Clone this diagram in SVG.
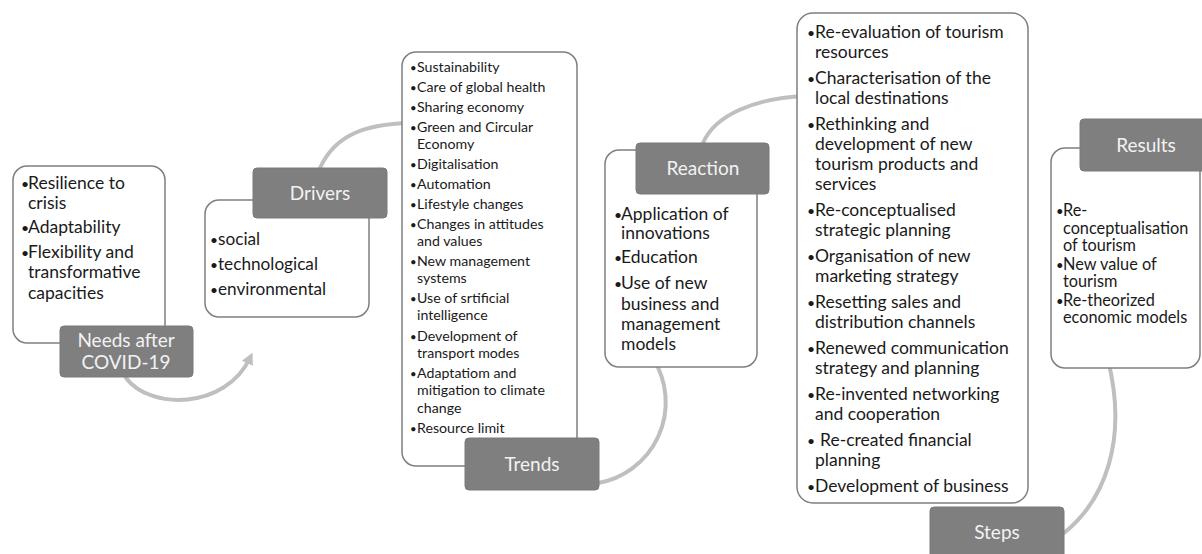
<svg xmlns="http://www.w3.org/2000/svg" width="1202" height="554" viewBox="0 0 1202 554">
<defs>
<style>
.box{fill:#ffffff;stroke:#7f7f7f;stroke-width:1.5}
.lab{fill:#7f7f7f;stroke:#7a7a7a;stroke-width:1}
.lt{font-family:Lato,"Open Sans","Liberation Sans",sans-serif;font-size:19px;fill:#f2f2f2;text-anchor:middle}
.t{font-family:Lato,"Open Sans","Liberation Sans",sans-serif;fill:#1a1a1a}
.b{font-size:0.8em}
.arc{fill:none;stroke:#bfbfbf;stroke-width:4;stroke-linecap:round}
</style>
<marker id="ah" viewBox="0 0 10 10" refX="5" refY="5" markerWidth="3" markerHeight="3" orient="auto" markerUnits="strokeWidth">
<path d="M0,0 L10,5 L0,10 z" fill="#bfbfbf"/>
</marker>
</defs>
<rect width="1202" height="554" fill="#ffffff"/>
<g id="connectors">
<path class="arc" d="M126,378 C150,410 225,410 250,358" marker-end="url(#ah)"/>
<path class="arc" d="M320,168 C335,135 365,124 410,123"/>
<path class="arc" d="M598,483 A82,82 0 0 0 654,360"/>
<path class="arc" d="M703,143 C715,115 755,98 805,96"/>
<path class="arc" d="M1064,533 C1105,500 1128,440 1108,360"/>
</g>
<g id="needs">
<rect class="box" x="13" y="166" width="152" height="177" rx="14"/>
<text class="t" font-size="17.5">
<tspan class="b" x="21" y="189">•</tspan><tspan x="28" y="189">Resilience to</tspan>
<tspan x="28" y="209">crisis</tspan>
<tspan class="b" x="21" y="233">•</tspan><tspan x="28" y="233">Adaptability</tspan>
<tspan class="b" x="21" y="258">•</tspan><tspan x="28" y="258">Flexibility and</tspan>
<tspan x="28" y="278">transformative</tspan>
<tspan x="28" y="299">capacities</tspan>
</text>
<rect class="lab" x="60" y="326" width="133" height="51" rx="4"/>
<text class="lt"><tspan x="126" y="347">Needs after</tspan><tspan x="126" y="369">COVID-19</tspan></text>
</g>
<g id="drivers">
<rect class="box" x="205" y="200" width="164" height="117" rx="14"/>
<text class="t" font-size="17.2">
<tspan class="b" x="210" y="245">•</tspan><tspan x="218" y="245">social</tspan>
<tspan class="b" x="210" y="270">•</tspan><tspan x="218" y="270">technological</tspan>
<tspan class="b" x="210" y="295">•</tspan><tspan x="218" y="295">environmental</tspan>
</text>
<rect class="lab" x="253" y="168" width="134" height="50" rx="4"/>
<text class="lt" x="320" y="200">Drivers</text>
</g>
<g id="trends">
<rect class="box" x="402" y="52" width="175" height="414" rx="14"/>
<text class="t" font-size="14.2">
<tspan class="b" x="410" y="71.5">•</tspan><tspan x="417" y="71.5">Sustainability</tspan>
<tspan class="b" x="410" y="91.5">•</tspan><tspan x="417" y="91.5">Care of global health</tspan>
<tspan class="b" x="410" y="111.5">•</tspan><tspan x="417" y="111.5">Sharing economy</tspan>
<tspan class="b" x="410" y="131.5">•</tspan><tspan x="417" y="131.5">Green and Circular</tspan>
<tspan x="417" y="148.8">Economy</tspan>
<tspan class="b" x="410" y="168.5">•</tspan><tspan x="417" y="168.5">Digitalisation</tspan>
<tspan class="b" x="410" y="188.5">•</tspan><tspan x="417" y="188.5">Automation</tspan>
<tspan class="b" x="410" y="208.5">•</tspan><tspan x="417" y="208.5">Lifestyle changes</tspan>
<tspan class="b" x="410" y="228.5">•</tspan><tspan x="417" y="228.5">Changes in attitudes</tspan>
<tspan x="417" y="245.8">and values</tspan>
<tspan class="b" x="410" y="265.5">•</tspan><tspan x="417" y="265.5">New management</tspan>
<tspan x="417" y="282.8">systems</tspan>
<tspan class="b" x="410" y="303">•</tspan><tspan x="417" y="303">Use of srtificial</tspan>
<tspan x="417" y="320.3">intelligence</tspan>
<tspan class="b" x="410" y="340.5">•</tspan><tspan x="417" y="340.5">Development of</tspan>
<tspan x="417" y="357.8">transport modes</tspan>
<tspan class="b" x="410" y="378">•</tspan><tspan x="417" y="378">Adaptatiom and</tspan>
<tspan x="417" y="395.3">mitigation to climate</tspan>
<tspan x="417" y="412.6">change</tspan>
<tspan class="b" x="410" y="433">•</tspan><tspan x="417" y="433">Resource limit</tspan>
</text>
<rect class="lab" x="465" y="438" width="134" height="52" rx="4"/>
<text class="lt" x="532" y="471">Trends</text>
</g>
<g id="reaction">
<rect class="box" x="605" y="150" width="152" height="217" rx="14"/>
<text class="t" font-size="17.5">
<tspan class="b" x="614" y="220">•</tspan><tspan x="621" y="220">Application of</tspan>
<tspan x="621" y="239">innovations</tspan>
<tspan class="b" x="614" y="263">•</tspan><tspan x="621" y="263">Education</tspan>
<tspan class="b" x="614" y="289">•</tspan><tspan x="621" y="289">Use of new</tspan>
<tspan x="621" y="310">business and</tspan>
<tspan x="621" y="330">management</tspan>
<tspan x="621" y="350">models</tspan>
</text>
<rect class="lab" x="636" y="143" width="133" height="51" rx="4"/>
<text class="lt" x="703" y="175">Reaction</text>
</g>
<g id="steps">
<rect class="box" x="797" y="13" width="231" height="490" rx="16"/>
<text class="t" font-size="17.5">
<tspan class="b" x="807" y="38">•</tspan><tspan x="815" y="38">Re-evaluation of tourism</tspan>
<tspan x="815" y="58">resources</tspan>
<tspan class="b" x="807" y="84">•</tspan><tspan x="815" y="84">Characterisation of the</tspan>
<tspan x="815" y="104">local destinations</tspan>
<tspan class="b" x="807" y="130">•</tspan><tspan x="815" y="130">Rethinking and</tspan>
<tspan x="815" y="150">development of new</tspan>
<tspan x="815" y="170">tourism products and</tspan>
<tspan x="815" y="190">services</tspan>
<tspan class="b" x="807" y="216">•</tspan><tspan x="815" y="216">Re-conceptualised</tspan>
<tspan x="815" y="236">strategic planning</tspan>
<tspan class="b" x="807" y="262">•</tspan><tspan x="815" y="262">Organisation of new</tspan>
<tspan x="815" y="282">marketing strategy</tspan>
<tspan class="b" x="807" y="308">•</tspan><tspan x="815" y="308">Resetting sales and</tspan>
<tspan x="815" y="328">distribution channels</tspan>
<tspan class="b" x="807" y="354">•</tspan><tspan x="815" y="354">Renewed communication</tspan>
<tspan x="815" y="374">strategy and planning</tspan>
<tspan class="b" x="807" y="400">•</tspan><tspan x="815" y="400">Re-invented networking</tspan>
<tspan x="815" y="420">and cooperation</tspan>
<tspan class="b" x="807" y="446">•</tspan><tspan x="820" y="446">Re-created financial</tspan>
<tspan x="815" y="466">planning</tspan>
<tspan class="b" x="807" y="492">•</tspan><tspan x="815" y="492">Development of business</tspan>
</text>
<rect class="lab" x="930" y="507" width="134" height="52" rx="4"/>
<text class="lt" x="997" y="539">Steps</text>
</g>
<g id="results">
<rect class="box" x="1051" y="148" width="149" height="220" rx="14"/>
<text class="t" font-size="16.3">
<tspan class="b" x="1056" y="216">•</tspan><tspan x="1063" y="216">Re-</tspan>
<tspan x="1063" y="234">conceptualisation</tspan>
<tspan x="1063" y="251">of tourism</tspan>
<tspan class="b" x="1056" y="270">•</tspan><tspan x="1063" y="270">New value of</tspan>
<tspan x="1063" y="287">tourism</tspan>
<tspan class="b" x="1056" y="306">•</tspan><tspan x="1063" y="306">Re-theorized</tspan>
<tspan x="1063" y="323">economic models</tspan>
</text>
<rect class="lab" x="1080" y="119" width="130" height="52" rx="4"/>
<text class="lt" x="1146" y="152">Results</text>
</g>
</svg>
